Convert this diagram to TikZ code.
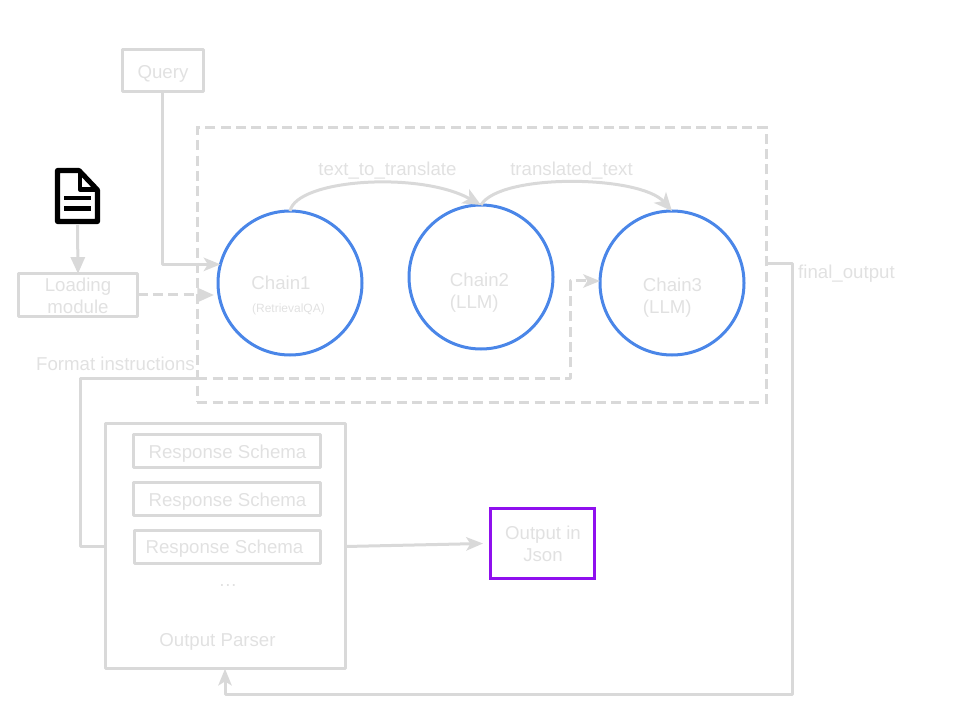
\documentclass[tikz,border=0pt]{standalone}
\usepackage{fontspec}
\setmainfont{Liberation Sans}
\usetikzlibrary{arrows.meta}
\definecolor{ln}{HTML}{D9D9D9}
\definecolor{tx}{HTML}{E1E1E1}
\definecolor{bl}{HTML}{4A86E8}
\definecolor{pu}{HTML}{8F10EE}
\tikzset{
  wh/.style 2 args={minimum width=#1*0.75pt,minimum height=#2*0.75pt,inner sep=0pt,outer sep=0pt},
  boxn/.style={draw=ln,line width=2.25pt,line join=round},
  dbox/.style={draw=ln,line width=2.25pt,dash pattern=on 7.5pt off 4pt},
  circ/.style={circle,draw=bl,line width=2.25pt,minimum size=108pt,inner sep=0pt,outer sep=0pt},
  lbl/.style={text=tx,font=\fontsize{14}{16.5}\selectfont,inner sep=0pt,anchor=base},
  mlbl/.style={text=tx,font=\fontsize{14}{16.5}\selectfont,inner sep=0pt,align=center},
  conn/.style={draw=ln,line width=2.25pt,line join=round},
  tip/.style={-{Stealth[length=12.5pt,width=10pt,inset=3pt]}},
  tipc/.style={-{Stealth[length=13.5pt,width=12pt,inset=3.5pt]}},
  tipf/.style={-{Stealth[length=12.5pt,width=10.5pt,inset=0pt]}},
}
\begin{document}
\begin{tikzpicture}[x=0.75pt,y=-0.75pt]
\useasboundingbox (0,0) rectangle (960,720);
% nodes
\node[boxn,wh={81}{42}] (query) at (162.5,71) {};
\node[lbl] (querytxt) at (163,78.5) {Query};
\node[dbox,wh={569.5}{274.5}] (group) at (482,265) {};
\node[boxn,wh={119}{42.5}] (loading) at (78,295) {};
\node[mlbl] (loadingtxt) at (78,295.5) {Loading\\module};
\node[circ] (chain1) at (290,283) {};
\node[circ] (chain2) at (481,277) {};
\node[circ] (chain3) at (672,283) {};
\node[lbl] (c1txt) at (281,290) {Chain1};
\node[lbl,font=\fontsize{9}{11}\selectfont] (c1sub) at (288.5,312.5) {(RetrievalQA)};
\node[mlbl,align=left] (c2txt) at (479.5,293) {Chain2\\(LLM)};
\node[mlbl,align=left] (c3txt) at (672.5,297.5) {Chain3\\(LLM)};
\node[lbl] (t2t) at (387.5,175.5) {text\_to\_translate};
\node[lbl] (tt) at (571.5,175.5) {translated\_text};
\node[lbl] (fo) at (846.5,279) {final\_output};
\node[lbl] (fi) at (115.5,370.5) {Format instructions};
\node[boxn,wh={240}{245.5}] (parser) at (225.5,546) {};
\node[boxn,wh={187}{32.5}] (rs1) at (227,451) {};
\node[boxn,wh={187}{32.5}] (rs2) at (227,499) {};
\node[boxn,wh={186.5}{32.5}] (rs3) at (227.5,547) {};
\node[lbl] (rs1t) at (227.5,458) {Response Schema};
\node[lbl] (rs2t) at (227.5,506) {Response Schema};
\node[lbl] (rs3t) at (224.5,553) {Response Schema};
\node[lbl] (dots) at (228,586) {…};
\node[lbl] (optxt) at (217.5,646) {Output Parser};
\node[draw=pu,line width=2.25pt,wh={104}{70.5}] (json) at (542.5,543.5) {};
\node[mlbl] (jsontxt) at (543,544) {Output in\\Json};
% document icon
\node[wh={45}{56}] (doc) at (77.5,196) {};
\draw[black,line width=3.8pt,line join=round,fill=white]
  (57.5,170.5) -- (79,170.5) -- (97.5,190) -- (97.5,221.5) -- (57.5,221.5) -- cycle;
\draw[black,line width=3.4pt,line join=round] (80,170.5) -- (80,189.5) -- (97.5,189.5);
\draw[black,line width=3.4pt] (64,198) -- (91,198) (64,208.5) -- (91,208.5);
% connectors
\draw[conn,tipf] (doc.south) ++(0,1) -- (loading.north);
\draw[conn,tip] (query.south) |- (chain1.165);
\draw[conn,dash pattern=on 7.5pt off 4pt,tipf,shorten >=3pt] (loading.east) -- (chain1.west |- loading.east);
\draw[conn,tipc] (chain1.90) .. controls (297,179) and (420,171) .. (chain2.90);
\draw[conn,tipc] (chain2.90) .. controls (500,173) and (640,175) .. (chain3.90);
\coordinate (fmtA) at (80,546);
\coordinate (fmtB) at (80,378);
\draw[conn] (parser.west |- fmtA) -- (fmtA) -- (fmtB) -- (group.west |- fmtB);
\coordinate (dashA) at (570,378);
\draw[conn,dash pattern=on 7.5pt off 4pt,tip] (group.west |- dashA) -- (dashA) |- (chain3.west |- 0,281);
\coordinate (foA) at (792,264);
\coordinate (foB) at (792,694);
\coordinate (foC) at (225,694);
\draw[conn,tip] (group.east |- foA) -- (foA) -- (foB) -- (foC) -- (parser.south -| foC);
\draw[conn,tip] (parser.east |- 0,546.5) -- (483,543.5);
\end{tikzpicture}
\end{document}
